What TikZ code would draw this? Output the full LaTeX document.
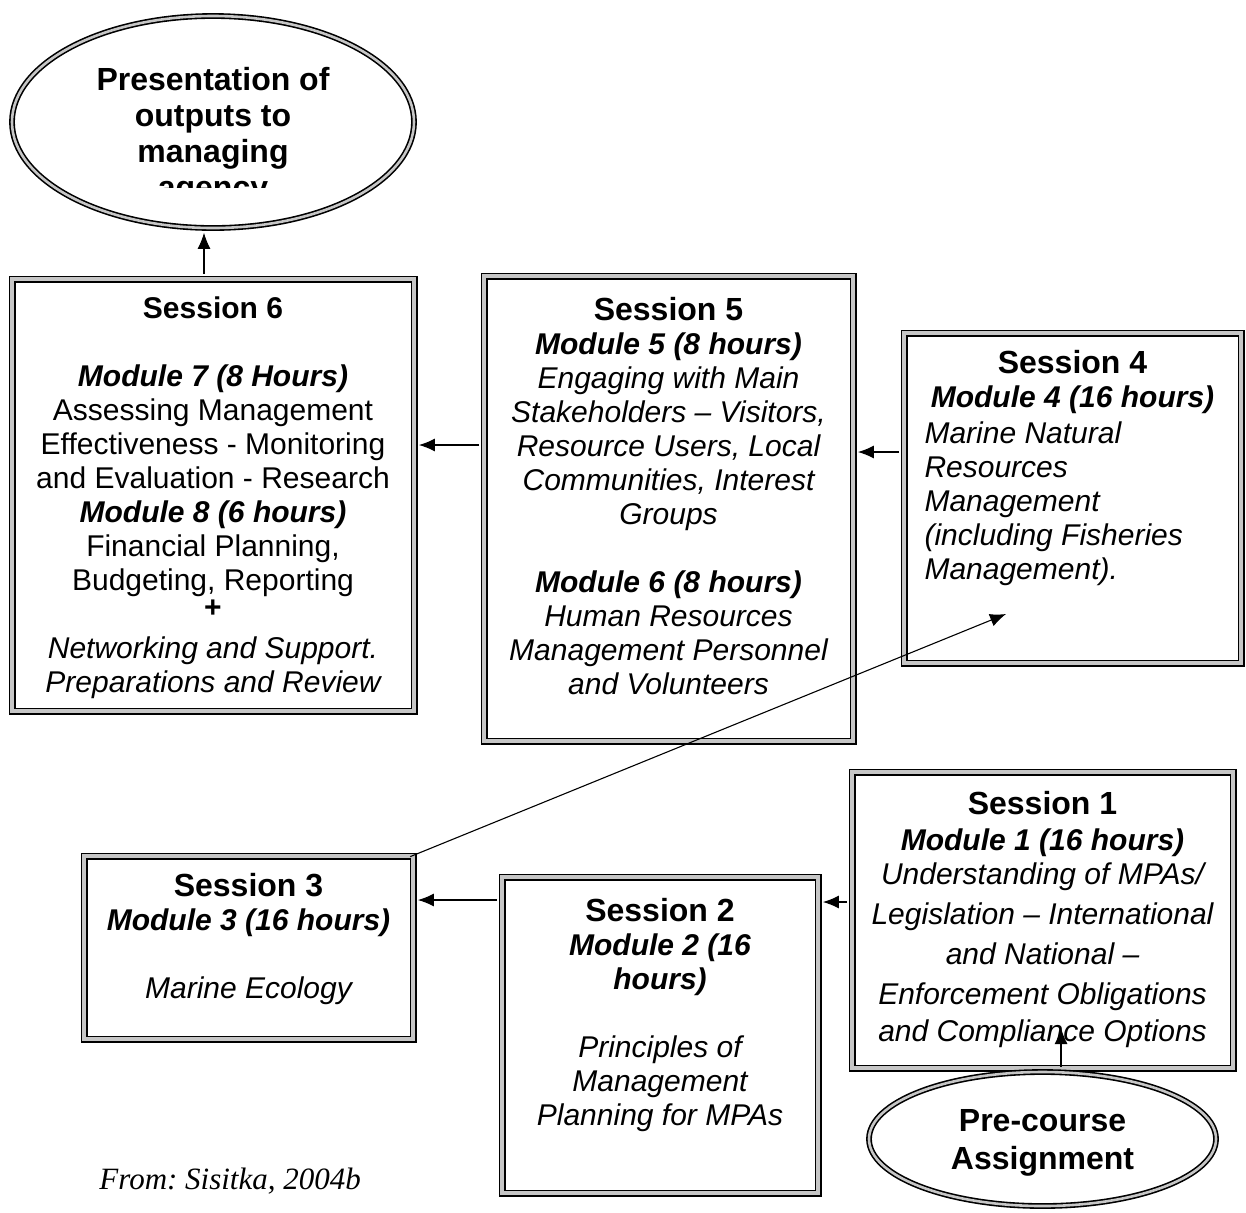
\documentclass[tikz,border=0pt]{standalone}
\usepackage{fontspec}
\setmainfont{Liberation Sans}
\newfontfamily\timesfont{Liberation Serif}
\usetikzlibrary{positioning,shapes.geometric,arrows.meta}
\frenchspacing
\tikzstyle{session} = [
 rectangle,
 draw=black,
 line width=0.9pt,
 double=gray!45,
 double distance=1.7pt,
 inner sep=0pt
]
\tikzstyle{goal} = [
 ellipse,
 draw=black,
 line width=0.8pt,
 double=gray!45,
 double distance=1.3pt,
 inner sep=0pt
]
\tikzstyle{boxtext} = [
 align = center,
 inner sep=0pt,
 font=\fontsize{15}{17}\selectfont\itshape
]
\tikzstyle{flow} = [
 -{Latex[length=8pt,width=6.5pt]},
 line width=0.55pt,
 shorten >=2pt,
 shorten <=2pt
]
\newcommand{\sesstitle}[1]{{\fontsize{16}{18}\selectfont\upshape\bfseries #1}}
\newcommand{\modhead}[1]{{\bfseries\itshape #1}}

\begin{document}
\begin{tikzpicture}[x=0.5pt, y=-0.5pt]
  \useasboundingbox (0,0) rectangle (1246,1212);

  % session boxes
  \node [session, minimum width=201pt, minimum height=216pt] (s6) at (213,495) {};
  \node [session, minimum width=184.5pt, minimum height=232.5pt] (s5) at (668.5,508.5) {};
  \node [session, minimum width=168.5pt, minimum height=165pt] (s4) at (1072.5,498) {};
  \node [session, minimum width=190.5pt, minimum height=148pt] (s1) at (1042.5,920) {};
  \node [session, minimum width=158pt, minimum height=158pt] (s2) at (660,1035) {};
  \node [session, minimum width=164.5pt, minimum height=91.5pt] (s3) at (248.5,947.5) {};

  % start and end
  \node [goal, minimum width=201pt, minimum height=106pt] (pres) at (213,122) {};
  \node [goal, minimum width=173.5pt, minimum height=67pt] (pre) at (1042.5,1139) {};

  \begin{scope}
    \clip (0,0) rectangle (1246,187);
    \node [boxtext, font=\fontsize{16}{18}\selectfont\bfseries, below=26pt of pres.north] (prestext)
      {Presentation of\\ outputs to\\ managing\\ agency};
  \end{scope}
  \node [boxtext, font=\fontsize{16}{19}\selectfont\bfseries, below=19pt of pre.north] (pretext)
    {Pre-course\\ Assignment};

  \node [boxtext, font=\fontsize{15}{17}\selectfont, below=9pt of s6.north] (s6text) {
    {\bfseries Session 6}\\[17pt]
    \modhead{Module 7 (8 Hours)}\\
    Assessing Management\\
    Effectiveness - Monitoring\\
    and Evaluation - Research\\
    \modhead{Module 8 (6 hours)}\\
    Financial Planning,\\
    Budgeting, Reporting\\[-3.5pt]
    {\bfseries +}\\[3.5pt]
    {\itshape Networking and Support.}\\
    {\itshape Preparations and Review}};

  \node [boxtext, below=11pt of s5.north] (s5text) {
    \sesstitle{Session 5}\\
    \modhead{Module 5 (8 hours)}\\
    Engaging with Main\\
    Stakeholders -- Visitors,\\
    Resource Users, Local\\
    Communities, Interest\\
    Groups\\[17pt]
    \modhead{Module 6 (8 hours)}\\
    Human Resources\\
    Management Personnel\\
    and Volunteers};

  \node [boxtext, below=9pt of s4.north] (s4text) {
    \sesstitle{Session 4}\\
    \modhead{Module 4 (16 hours)}};
  \node [boxtext, align=left, anchor=north west] (s4body)
    at ([xshift=10.5pt, yshift=-44.5pt]s4.north west) {
    Marine Natural\\
    Resources\\
    Management\\
    (including Fisheries\\
    Management).};

  \node [boxtext, below=10pt of s1.north] (s1text) {
    \sesstitle{Session 1}\\[1pt]
    \modhead{Module 1 (16 hours)}\\
    Understanding of MPAs/\\[3pt]
    Legislation -- International\\[3pt]
    and National --\\[3pt]
    Enforcement Obligations\\[1.5pt]
    and Compliance Options};

  \node [boxtext, below=11pt of s2.north] (s2text) {
    \sesstitle{Session 2}\\
    \modhead{Module 2 (16}\\
    \modhead{hours)}\\[17pt]
    Principles of\\
    Management\\
    Planning for MPAs};

  \node [boxtext, below=9pt of s3.north] (s3text) {
    \sesstitle{Session 3}\\
    \modhead{Module 3 (16 hours)}\\[17pt]
    Marine Ecology};

  \node [anchor=base west, inner sep=0pt, font=\fontsize{15.5}{18}\selectfont\timesfont\itshape] (source)
    at (99,1189) {From: Sisitka, 2004b};

  % connectors
  \coordinate (j6) at (204,0);
  \coordinate (j65) at (0,445);
  \coordinate (j54) at (0,452);
  \coordinate (j12) at (0,902);
  \coordinate (j23) at (0,900);
  \coordinate (m4) at (1006,614);
  \coordinate (m1) at (1061,1028);
  \draw [flow] (s6.north -| j6) -- (pres.south -| j6);
  \draw [flow] (s5.west |- j65) -- (s6.east |- j65);
  \draw [flow] (s4.west |- j54) -- (s5.east |- j54);
  \draw [flow] (s1.west |- j12) -- (s2.east |- j12);
  \draw [flow] (s2.west |- j23) -- (s3.east |- j23);
  \draw [flow, shorten <=-2pt, shorten >=0pt] (s3.north east) -- (m4);
  \draw [flow, shorten >=0pt] (m1 |- pre.north) -- (m1);
\end{tikzpicture}
\end{document}
